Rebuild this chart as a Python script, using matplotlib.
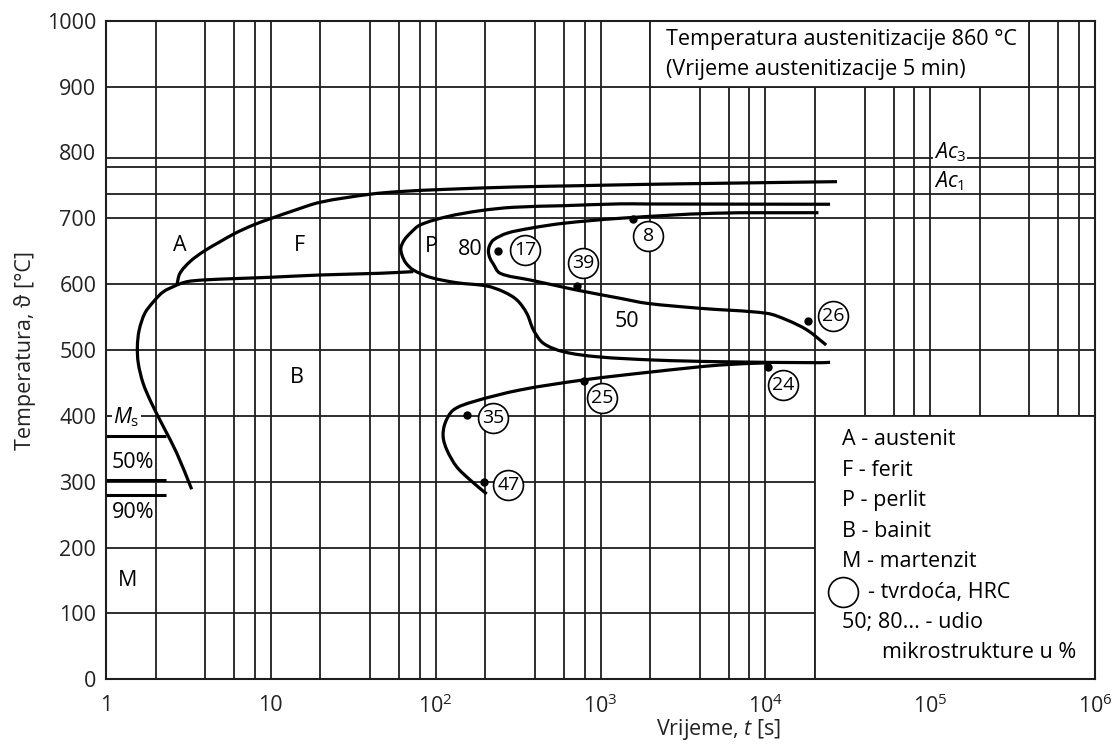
import matplotlib
matplotlib.use("Agg")
import numpy as np
import matplotlib.pyplot as plt
from matplotlib.patches import Rectangle, PathPatch
from matplotlib.path import Path

plt.rcParams['font.family'] = ['Open Sans', 'DejaVu Sans']
plt.rcParams['mathtext.fontset'] = 'custom'
plt.rcParams['mathtext.rm'] = 'Open Sans'
plt.rcParams['mathtext.it'] = 'Open Sans:italic'
plt.rcParams['mathtext.bf'] = 'Open Sans:bold'

# ---------------- data (time in s, temperature in degC) ----------------
ferrite_start_t = [2.69, 2.81, 3.23, 3.89, 4.92, 6.07, 7.83, 10.1, 13.7, 19.9, 39.6, 60, 117, 300, 752, 1900, 4840, 27200]
ferrite_start_T = [598.7, 616.5, 634.1, 649.3, 664.4, 677.2, 689.8, 700, 711.5, 724.3, 736.4, 740.5, 744, 747.5, 749.5, 751.5, 753, 755.6]

ferrite_end_t = [2.69, 3.09, 3.89, 6.21, 9.89, 19.9, 46, 73.2]
ferrite_end_T = [598.7, 603.7, 606.3, 608.5, 610.4, 613.9, 616.5, 619]

bainite_left_t = [2.69, 2.23, 1.94, 1.72, 1.59, 1.55, 1.57, 1.68, 1.89, 2.23, 2.69, 3.31]
bainite_left_T = [598.7, 588.5, 573.3, 555.7, 530.4, 505, 479.8, 449.4, 419.1, 383.5, 343.2, 288.5]

pearlite_t = [24700, 1910, 1315, 596, 296, 186, 117, 80.4, 70.5, 64.5, 61.5, 62.5, 66, 73.2, 92.5, 134, 204, 258,
              311, 357, 392, 450, 596, 950, 2095, 5320, 21500, 24700]
pearlite_T = [721.3, 721.7, 721.9, 719.1, 716.7, 711.5, 702.4, 689.8, 678, 667, 655, 644, 632, 621.5, 610.4, 602.2,
              597.2, 588.5, 576, 555.7, 530.4, 510.2, 497.4, 489.8, 484.8, 482.2, 480.7, 481.3]

inner_t = [21000, 4840, 1315, 596, 374, 270, 224, 212, 209, 213, 222, 246, 374, 518, 718, 1315, 1910, 4020,
           10200, 13500, 17900, 23400]
inner_T = [708.5, 707.6, 700, 692.4, 684.8, 677.2, 667, 658, 649.3, 640, 632, 616.5, 606.3, 598.7, 591, 578.5,
           570.9, 563.3, 555.7, 545.6, 530.4, 507.6]

bainite_low_t = [10200, 5320, 2095, 787, 325, 169, 128, 114, 111, 117, 134, 162, 204]
bainite_low_T = [480.5, 477.2, 467, 454.5, 439.3, 421.5, 408.9, 388.7, 368.4, 348.2, 322.8, 302.6, 281.4]

ms_line_T = [370, 303, 280]

hardness_values = ['8', '17', '39', '26', '24', '25', '35', '47']
hardness_dot_t = [1580, 240, 718, 18270, 10450, 798, 154.5, 197.5]
hardness_dot_T = [698.5, 650.3, 597.6, 544.5, 474.6, 453.4, 401.3, 300]
hardness_lbl_t = [1954, 349, 787, 25900, 12880, 1018, 222, 276]
hardness_lbl_T = [673, 651.8, 632.6, 551.6, 446.9, 426.7, 396.3, 295]

region_labels = ['A', 'F', 'P', '80', '50', 'B', 'M']
region_t = [2.81, 15.0, 94.7, 162, 1445, 14.4, 1.36]
region_T = [659, 659, 657, 653, 543, 459, 150.6]

Ac3, Ac1, extra_line = 792, 737, 778

xtick_vals = [1, 10, 1e2, 1e3, 1e4, 1e5, 1e6]
xtick_labels = ['1', '10', r'$10^{2}$', r'$10^{3}$', r'$10^{4}$', r'$10^{5}$', r'$10^{6}$']
ytick_vals = list(range(0, 1001, 100))

legend_lines = ['A - austenit', 'F - ferit', 'P - perlit', 'B - bainit', 'M - martenzit']

# ---------------- figure ----------------
fig = plt.figure(figsize=(11.19, 7.45), dpi=100)
ax = fig.add_axes([106 / 1119, 1 - 679.3 / 745, (1095 - 106) / 1119, (679.3 - 20.7) / 745])
ax.set_xscale('log')
ax.set_xlim(1, 1e6)
ax.set_ylim(0, 1000)

# scale factors so that smoothing works in a near-isotropic (screen-like) space
SX, SY = 164.8, 0.6586


def smooth_path(t, T):
    """Smooth curve through the read points (cubic Bezier segments, rendering only)."""
    P = np.column_stack([np.log10(t) * SX, np.asarray(T, float) * SY])
    n = len(P)
    d = np.hypot(*np.diff(P, axis=0).T)
    tang = np.zeros_like(P)
    tang[0] = (P[1] - P[0]) / d[0]
    tang[-1] = (P[-1] - P[-2]) / d[-1]
    for i in range(1, n - 1):
        tang[i] = (P[i + 1] - P[i - 1]) / (d[i - 1] + d[i])
    verts = [P[0]]
    codes = [Path.MOVETO]
    for i in range(n - 1):
        verts += [P[i] + tang[i] * d[i] / 3, P[i + 1] - tang[i + 1] * d[i] / 3, P[i + 1]]
        codes += [Path.CURVE4] * 3
    V = np.array(verts)
    V[:, 0] = 10 ** (V[:, 0] / SX)
    V[:, 1] = V[:, 1] / SY
    return Path(V, codes)


GC = '#1e1e1e'
GLW = 1.3
# vertical grid
for dcd in range(6):
    for k in (1, 2, 4, 6, 8):
        v = k * 10 ** dcd
        if v > 1:
            ax.axvline(v, color=GC, lw=GLW, zorder=1)
# horizontal grid
for T in [y for y in ytick_vals[1:-1] if y != 800] + [Ac3, Ac1, extra_line]:
    ax.axhline(T, color=GC, lw=GLW, zorder=1)

# boxes covering the grid
ax.add_patch(Rectangle((2e3, 900), 4e5 - 2e3, 100, facecolor='white', edgecolor=GC, lw=GLW, zorder=2))
ax.add_patch(Rectangle((2e4, 0), 1e6 - 2e4, 400, facecolor='white', edgecolor=GC, lw=GLW, zorder=2))

CLW = 2.3
for t, T in [(ferrite_start_t, ferrite_start_T), (ferrite_end_t, ferrite_end_T),
             (bainite_left_t, bainite_left_T), (pearlite_t, pearlite_T),
             (inner_t, inner_T), (bainite_low_t, bainite_low_T)]:
    ax.add_patch(PathPatch(smooth_path(t, T), fill=False, edgecolor='black', lw=CLW, zorder=3,
                           capstyle='butt', joinstyle='round'))

# Ms lines
for T in ms_line_T:
    ax.plot([1, 2.31], [T, T], color='black', lw=2.2, zorder=3, solid_capstyle='butt')

FS = 15.5
# hardness dots and circled values
ax.plot(hardness_dot_t, hardness_dot_T, 'o', color='black', ms=5, zorder=4)
ax.plot(hardness_lbl_t, hardness_lbl_T, 'o', mfc='white', mec='black', mew=1.2, ms=21.5, zorder=4)
for s, t, T in zip(hardness_values, hardness_lbl_t, hardness_lbl_T):
    ax.text(t, T, s, ha='center', va='center', fontsize=14, zorder=5)

# region labels
for s, t, T in zip(region_labels, region_t, region_T):
    ax.text(t, T, s, ha='center', va='center', fontsize=FS, zorder=5)

ax.text(1.083, 328.5, '50%', ha='left', va='center', fontsize=FS, zorder=5)
ax.text(1.083, 254, '90%', ha='left', va='center', fontsize=FS, zorder=5)
ax.text(1.33, 398, r'$M_{\mathrm{s}}$', ha='center', va='center', fontsize=FS, zorder=5,
        bbox=dict(facecolor='white', edgecolor='none', pad=1))

# Ac labels
ax.text(1.05e5, 801, r'$Ac_{\mathrm{3}}$', ha='left', va='center', fontsize=FS, zorder=5,
        bbox=dict(facecolor='white', edgecolor='none', pad=0.5))
ax.text(1.05e5, 756, r'$Ac_{\mathrm{1}}$', ha='left', va='center', fontsize=FS, zorder=5)

# top text
ax.text(2500, 963.3, 'Temperatura austenitizacije 860 °C', ha='left', va='baseline', fontsize=FS, zorder=5)
ax.text(2500, 917.7, '(Vrijeme austenitizacije 5 min)', ha='left', va='baseline', fontsize=FS, zorder=5)

# legend text
leg_base = [355.8, 309.4, 263.1, 216.8, 170.5]
for s, T in zip(legend_lines, leg_base):
    ax.text(29100, T, s, ha='left', va='baseline', fontsize=FS, zorder=5)
ax.plot([29800], [132.6], 'o', mfc='white', mec='black', mew=1.2, ms=21.5, zorder=4)
ax.text(42000, 124.2, '- tvrdoća, HRC', ha='left', va='baseline', fontsize=FS, zorder=5)
ax.text(29100, 77.9, '50; 80... - udio', ha='left', va='baseline', fontsize=FS, zorder=5)
ax.text(50900, 31.6, 'mikrostrukture u %', ha='left', va='baseline', fontsize=FS, zorder=5)

# axes styling
for sp in ax.spines.values():
    sp.set_color(GC)
    sp.set_linewidth(1.5)
    sp.set_zorder(6)
ax.set_xticks(xtick_vals)
ax.set_xticklabels(xtick_labels)
ax.set_xticks([], minor=True)
ax.set_yticks(ytick_vals)
ax.tick_params(axis='both', length=0, labelsize=FS, colors='#222222')
ax.tick_params(axis='y', pad=7)
ax.tick_params(axis='x', pad=11)

fig.text(718 / 1119, 1 - 729 / 745, r'Vrijeme, $t$ [s]', ha='center', va='center', fontsize=FS, color='#222222')
fig.text(25 / 1119, 1 - 350 / 745, 'Temperatura, ϑ [°C]', ha='center', va='center', rotation=90,
         fontsize=FS, color='#222222')

fig.savefig('out.png', dpi=100)
